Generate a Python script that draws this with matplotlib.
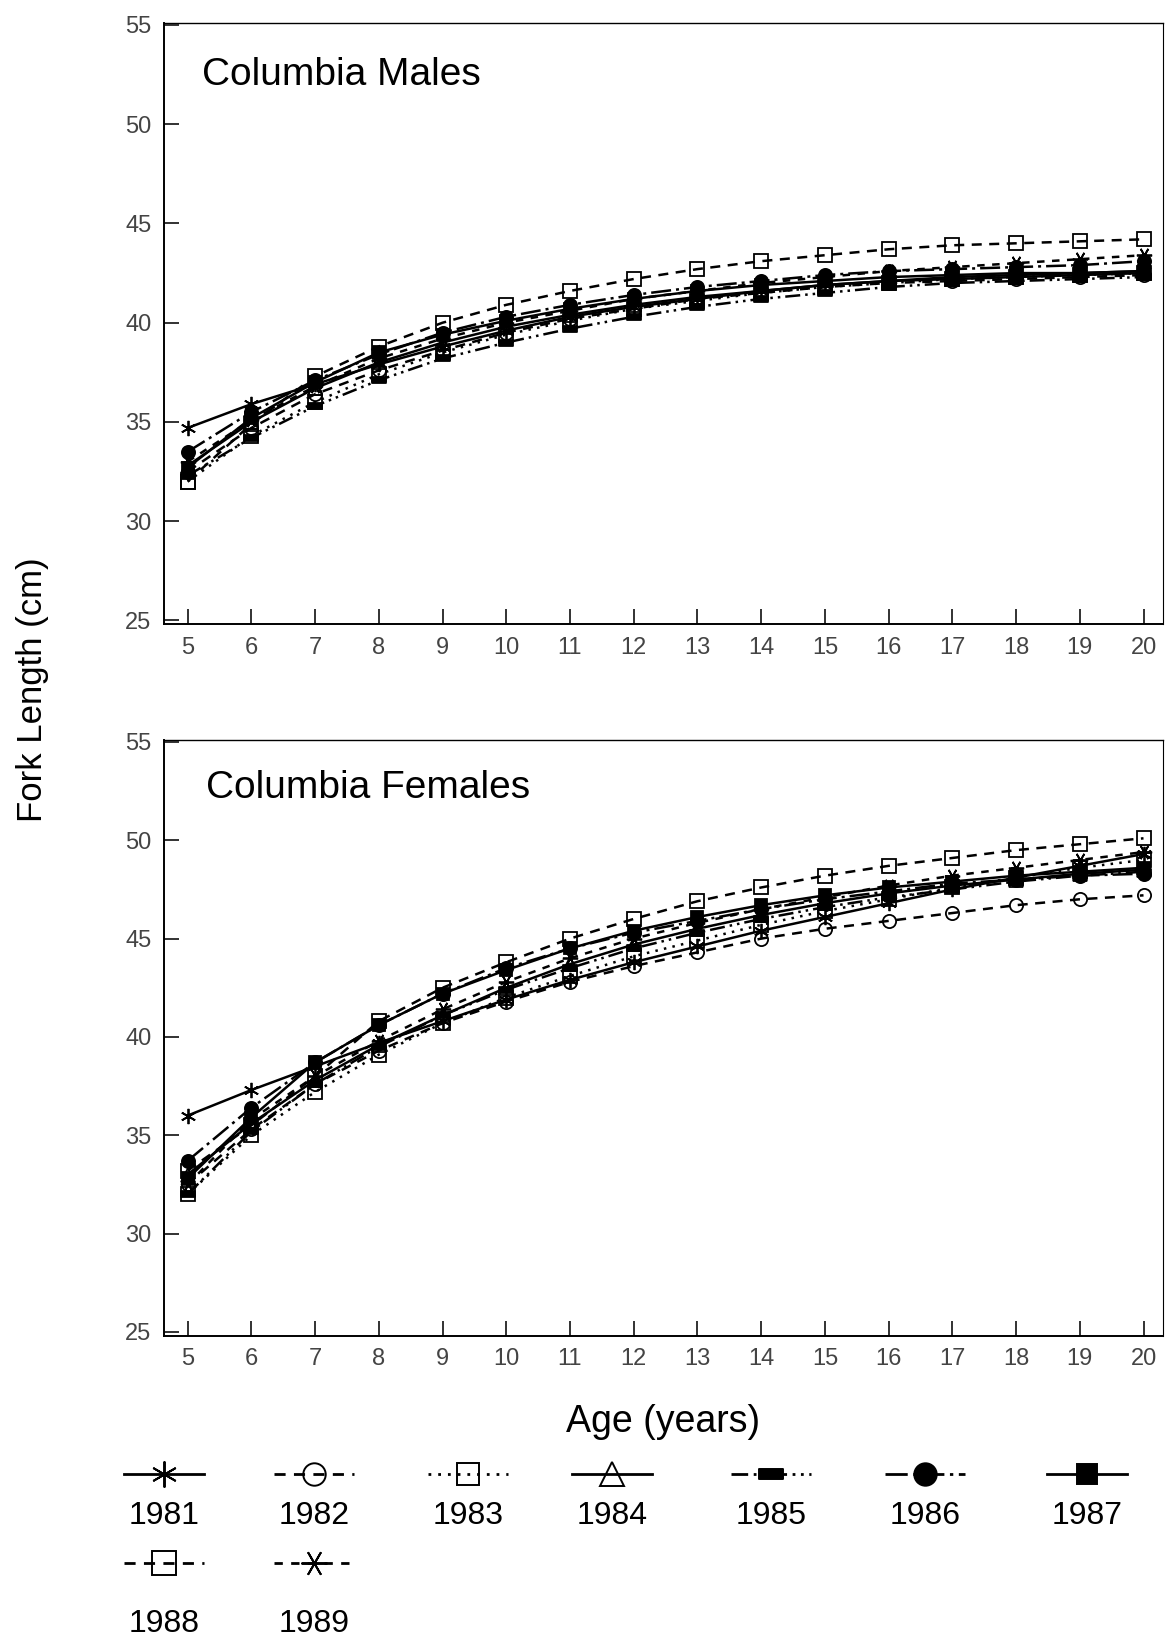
import matplotlib
matplotlib.use("Agg")
import matplotlib.pyplot as plt
import numpy as np
from matplotlib.path import Path

plt.rcParams['font.family'] = ['Liberation Sans', 'DejaVu Sans']

ages = list(range(5, 21))
years = ['1981', '1982', '1983', '1984', '1985', '1986', '1987', '1988', '1989']

males = {
    '1981': [34.7, 35.9, 36.9, 37.9, 38.8, 39.6, 40.3, 40.8, 41.2, 41.6, 41.9, 42.1, 42.3, 42.4, 42.5, 42.6],
    '1982': [32.5, 34.7, 36.4, 37.6, 38.6, 39.5, 40.2, 40.7, 41.2, 41.5, 41.8, 42.0, 42.1, 42.2, 42.3, 42.4],
    '1983': [32.0, 34.3, 36.0, 37.4, 38.5, 39.4, 40.1, 40.7, 41.1, 41.5, 41.8, 42.0, 42.2, 42.3, 42.4, 42.5],
    '1984': [32.8, 35.0, 36.7, 38.0, 39.0, 39.8, 40.4, 40.9, 41.3, 41.6, 41.9, 42.1, 42.2, 42.3, 42.4, 42.5],
    '1985': [32.3, 34.2, 35.8, 37.1, 38.2, 39.0, 39.7, 40.3, 40.8, 41.2, 41.5, 41.8, 42.0, 42.1, 42.2, 42.3],
    '1986': [33.5, 35.5, 37.1, 38.4, 39.5, 40.3, 40.9, 41.4, 41.8, 42.1, 42.4, 42.6, 42.7, 42.8, 42.9, 43.1],
    '1987': [32.7, 35.2, 37.0, 38.5, 39.4, 40.1, 40.7, 41.2, 41.6, 41.9, 42.1, 42.3, 42.4, 42.5, 42.5, 42.6],
    '1988': [32.0, 34.9, 37.3, 38.8, 40.0, 40.9, 41.6, 42.2, 42.7, 43.1, 43.4, 43.7, 43.9, 44.0, 44.1, 44.2],
    '1989': [33.0, 35.1, 36.8, 38.2, 39.2, 40.0, 40.6, 41.2, 41.6, 42.0, 42.3, 42.6, 42.8, 43.0, 43.2, 43.4],
}

females = {
    '1981': [36.0, 37.3, 38.5, 39.7, 40.8, 41.9, 42.9, 43.8, 44.6, 45.4, 46.1, 46.8, 47.5, 48.1, 48.7, 49.3],
    '1982': [32.5, 35.3, 37.6, 39.3, 40.7, 41.8, 42.8, 43.6, 44.3, 45.0, 45.5, 45.9, 46.3, 46.7, 47.0, 47.2],
    '1983': [32.0, 35.0, 37.2, 39.1, 40.7, 42.0, 43.1, 44.1, 44.9, 45.7, 46.4, 47.0, 47.6, 48.1, 48.6, 49.0],
    '1984': [33.0, 35.6, 37.8, 39.6, 41.1, 42.5, 43.7, 44.7, 45.5, 46.2, 46.8, 47.3, 47.7, 48.0, 48.3, 48.5],
    '1985': [32.0, 35.2, 37.6, 39.5, 41.1, 42.4, 43.5, 44.5, 45.3, 46.0, 46.6, 47.1, 47.5, 47.9, 48.2, 48.4],
    '1986': [33.7, 36.4, 38.7, 40.6, 42.2, 43.5, 44.5, 45.3, 45.9, 46.5, 47.0, 47.4, 47.8, 48.0, 48.2, 48.3],
    '1987': [32.8, 35.9, 38.7, 40.6, 42.2, 43.4, 44.5, 45.4, 46.1, 46.7, 47.2, 47.6, 47.9, 48.2, 48.4, 48.6],
    '1988': [33.2, 35.5, 38.0, 40.8, 42.5, 43.8, 45.0, 46.0, 46.9, 47.6, 48.2, 48.7, 49.1, 49.5, 49.8, 50.1],
    '1989': [32.5, 35.8, 38.0, 39.8, 41.4, 42.8, 44.0, 45.0, 45.8, 46.5, 47.1, 47.7, 48.2, 48.6, 49.0, 49.4],
}

yticks = [25, 30, 35, 40, 45, 50, 55]
xticks = ages

rect = Path([(-1, -0.4), (1, -0.4), (1, 0.4), (-1, 0.4), (-1, -0.4)],
            [Path.MOVETO, Path.LINETO, Path.LINETO, Path.LINETO, Path.CLOSEPOLY])

styles = {
    '1981': dict(ls='-', marker=(6, 2, 0), mfc='black', ms=11),
    '1982': dict(ls=(0, (4, 3)), marker='o', mfc='none', ms=9.5),
    '1983': dict(ls=(0, (1, 2.5)), marker='s', mfc='none', ms=9.5),
    '1984': dict(ls='-', marker='^', mfc='none', ms=10),
    '1985': dict(ls=(0, (6, 2, 1, 2, 1, 2)), marker=rect, mfc='black', ms=10),
    '1986': dict(ls=(0, (8, 2, 1.2, 2)), marker='o', mfc='black', ms=9.5),
    '1987': dict(ls='-', marker='s', mfc='black', ms=8.5),
    '1988': dict(ls=(0, (4, 3)), marker='s', mfc='none', ms=10.5),
    '1989': dict(ls=(0, (3, 3)), marker=(6, 2, 90), mfc='black', ms=11),
}

fig = plt.figure(figsize=(11.72, 16.39), dpi=100)

def panel(rect_, data, title, tx, ty):
    ax = fig.add_axes(rect_)
    for y in years:
        st = styles[y]
        ax.plot(ages, data[y], color='black', lw=1.8, linestyle=st['ls'],
                marker=st['marker'], markersize=st['ms'], markerfacecolor=st['mfc'],
                markeredgecolor='black', markeredgewidth=1.3)
    ax.set_xlim(4.63, 20.3)
    ax.set_ylim(24.8, 55.1)
    ax.set_xticks(xticks)
    ax.set_yticks(yticks)
    ax.tick_params(direction='in', length=11, width=1.3, labelsize=17, colors='#222222', pad=9)
    for lbl in ax.get_xticklabels() + ax.get_yticklabels():
        lbl.set_color('#444444')
    for s in ax.spines.values():
        s.set_linewidth(1.4)
    ax.spines['top'].set_linewidth(1.0)
    ax.spines['right'].set_linewidth(0.8)
    ax.text(tx, ty, title, transform=ax.transAxes, fontsize=28, va='center', ha='left')
    return ax

panel([0.140, 0.619, 0.852, 0.367], males, 'Columbia Males', 0.038, 0.913)
panel([0.140, 0.185, 0.852, 0.3635], females, 'Columbia Females', 0.042, 0.919)

fig.text(0.028, 0.579, 'Fork Length (cm)', rotation=90, fontsize=25, va='center', ha='center')
fig.text(0.566, 0.1325, 'Age (years)', fontsize=27, va='center', ha='center')

# legend
leg = fig.add_axes([0, 0, 1, 1], zorder=-1)
leg.set_xlim(0, 1172)
leg.set_ylim(1639, 0)
leg.axis('off')
leg_x = [164, 314, 468, 612, 771, 925, 1087, 164, 314]
leg_line_y = [1474] * 7 + [1563] * 2
leg_text_y = [1516] * 7 + [1624] * 2
for i, y in enumerate(years):
    st = styles[y]
    cx, ly = leg_x[i], leg_line_y[i]
    leg.plot([cx - 40, cx, cx + 40], [ly, ly, ly], color='black', lw=2.0, linestyle=st['ls'],
             marker=st['marker'], markevery=[1], markersize=st['ms'] * 1.7,
             markerfacecolor=st['mfc'], markeredgecolor='black', markeredgewidth=1.4)
    leg.text(cx, leg_text_y[i], y, fontsize=23, ha='center', va='center')

fig.savefig('out.png', dpi=100, facecolor='white')
